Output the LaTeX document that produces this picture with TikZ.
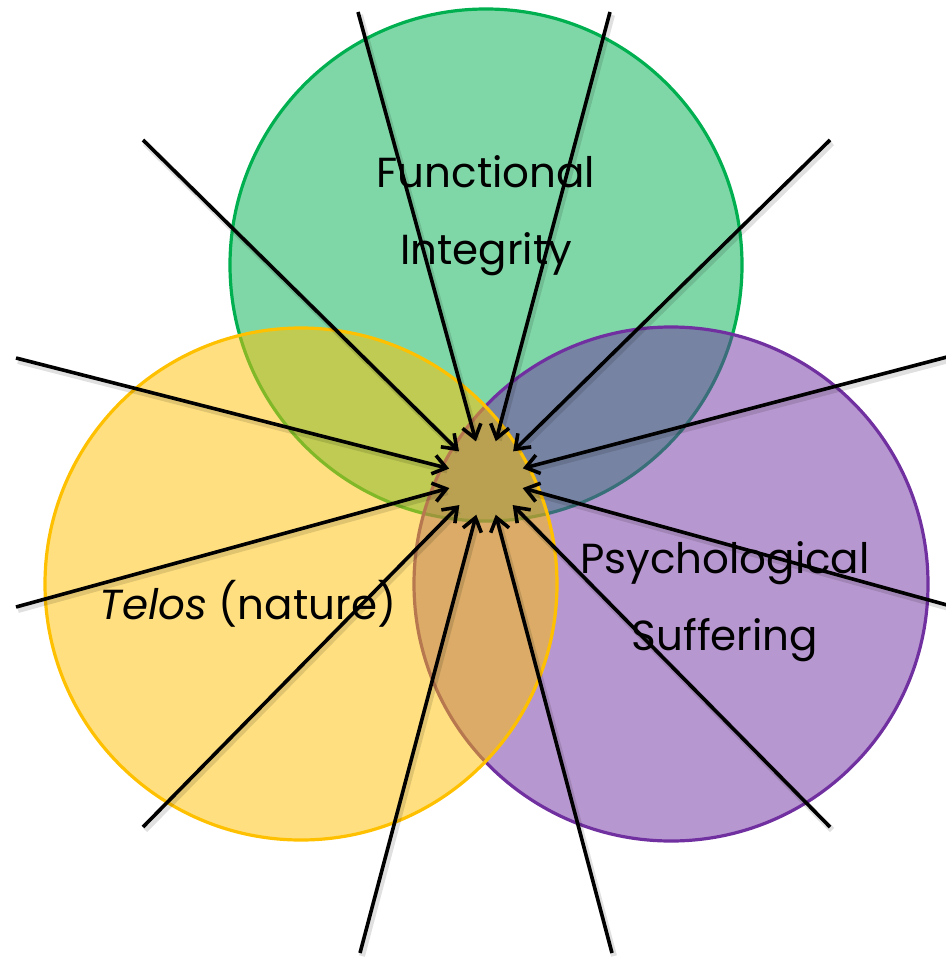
\documentclass[tikz,border=0pt]{standalone}
\usepackage{fontspec}
\setmainfont{Poppins}
\usetikzlibrary{arrows.meta}
\definecolor{cgreen}{HTML}{00B050}
\definecolor{cyellow}{HTML}{FFC000}
\definecolor{cpurple}{HTML}{7030A0}
\begin{document}
\begin{tikzpicture}[x=1pt,y=-1pt,
  ring/.style={circle,inner sep=0pt,line width=3.2pt,fill opacity=0.5,draw opacity=1},
  label/.style={font=\fontsize{42}{77}\selectfont,align=center,text=black},
  arr/.style={line width=3.6pt,-{Straight Barb[length=13pt,width=19pt,line width=3.6pt]},shorten >=38pt},
  shadowline/.style={line width=6pt,draw=black,draw opacity=0.12,shorten >=42pt}]
\useasboundingbox (0,0) rectangle (945,960);
\node[ring,draw=cgreen,fill=cgreen,minimum size=512pt] (G) at (486,265) {};
\node[ring,draw=cpurple,fill=cpurple,minimum size=514pt] (P) at (671,584) {};
\node[ring,draw=cyellow,fill=cyellow,minimum size=512pt] (Y) at (301,584) {};
\node[label] (tF) at (486,216) {Functional\\Integrity};
\node[label] (tT) at (248,604) {\textit{Telos} (nature)};
\node[label] (tP) at (725,602) {Psychological\\Suffering};
\coordinate (C) at (486,478);
\coordinate (a1) at (358,12);
\coordinate (a2) at (610,12);
\coordinate (a3) at (143,140);
\coordinate (a4) at (830,140);
\coordinate (a5) at (16,358);
\coordinate (a6) at (947,357);
\coordinate (a7) at (16,607);
\coordinate (a8) at (947,605);
\coordinate (a9) at (143,827);
\coordinate (a10) at (830,827);
\coordinate (a11) at (360,953);
\coordinate (a12) at (612,953);
\foreach \i in {1,...,12}{
  \draw[shadowline] ([shift={(2,3)}]a\i) -- ([shift={(2,3)}]C);
}
\foreach \i in {1,...,12}{
  \draw[arr] (a\i) -- (C);
}
\end{tikzpicture}
\end{document}
